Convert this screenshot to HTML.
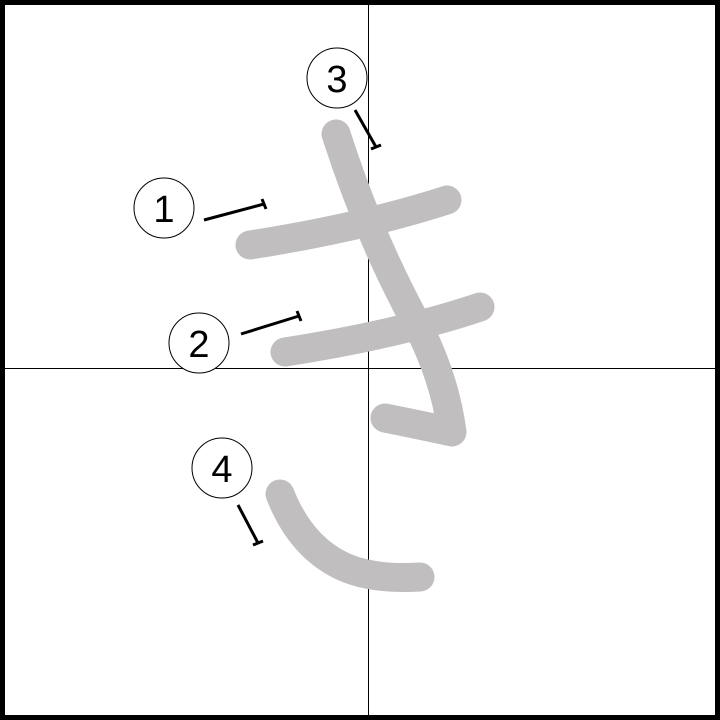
<!DOCTYPE html>
<html><head><meta charset="utf-8"><style>
html,body{margin:0;padding:0;background:#fff;}
svg{display:block;}
</style></head><body>
<svg width="720" height="720" viewBox="0 0 720 720">
<rect x="2.5" y="2.5" width="715" height="715" fill="#fff" stroke="#000" stroke-width="5"/>
<line x1="368.5" y1="0" x2="368.5" y2="720" stroke="#000" stroke-width="1"/>
<line x1="0" y1="368.5" x2="720" y2="368.5" stroke="#000" stroke-width="1"/>
<g fill="none" stroke="#c0bebf" stroke-width="29" stroke-linecap="round" stroke-linejoin="round">
<path d="M250,245 Q360,228 447,200"/>
<path d="M285,352 Q400,334 480,307"/>
<path d="M336,134 Q370,240 420,330 Q445,380 452,432 Q420,425 385,418"/>
<path d="M280,494 Q300,545 340,565 Q370,580 420,577"/>
</g>
<g fill="#fff" stroke="#000" stroke-width="1">
<circle cx="164" cy="208" r="30"/>
<circle cx="199" cy="343" r="30"/>
<circle cx="337" cy="78" r="30"/>
<circle cx="222" cy="468" r="30"/>
</g>
<g font-family="Liberation Sans, sans-serif" font-size="38" text-anchor="middle" fill="#000">
<text x="164" y="222">1</text>
<text x="199" y="357">2</text>
<text x="337" y="92">3</text>
<text x="222" y="482">4</text>
</g>
<g stroke="#000" stroke-width="3" fill="none">
<path d="M204,220 L264,204 M262,199 L266,209"/>
<path d="M241,334 L299,316 M297,311 L301,321"/>
<path d="M355,110 L376,147 M371,149 L381,145"/>
<path d="M238,505 L258,543 M253,545 L263,541"/>
</g>
</svg>
</body></html>
